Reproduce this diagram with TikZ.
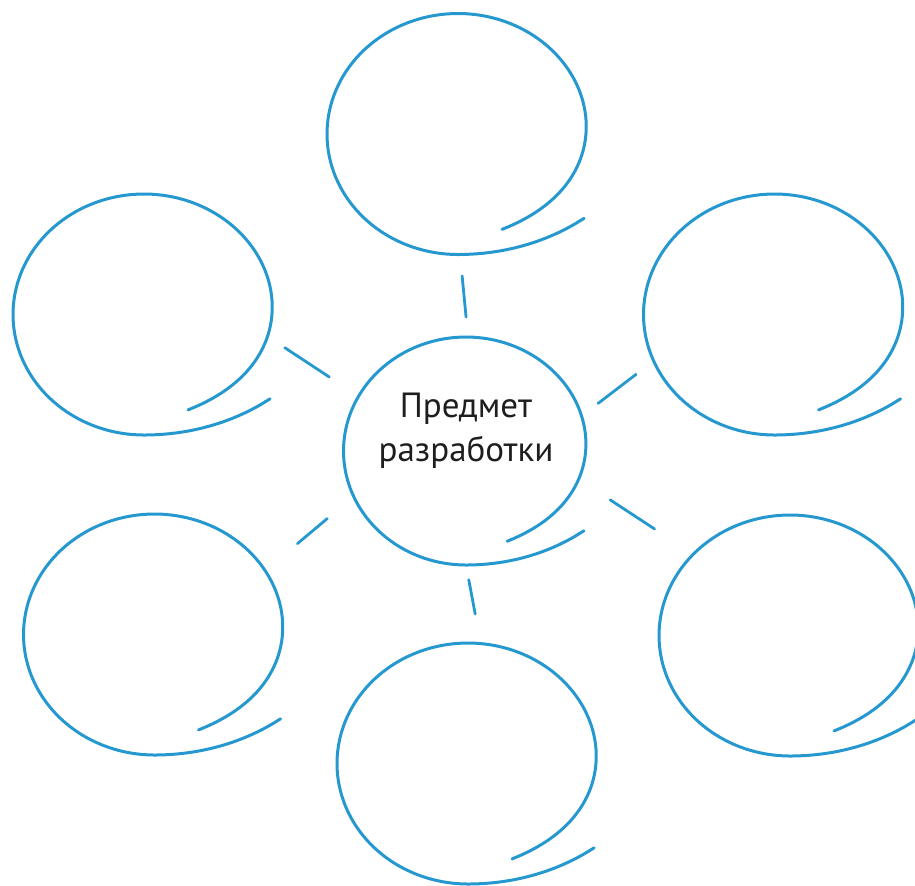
\documentclass[tikz,border=0pt]{standalone}
\usepackage{fontspec}
\setmainfont{PT Sans}
\usepackage{tikz}
\usetikzlibrary{shapes.geometric, positioning}
\definecolor{bubbleblue}{RGB}{38,152,208}
\definecolor{inkgray}{RGB}{30,30,30}
\tikzset{
  bubble/.style={ellipse,draw=none,inner sep=0pt,outer sep=0pt,minimum width=131pt,minimum height=121pt},
  hubnode/.style={bubble,minimum width=122.5pt,minimum height=114pt},
  hubtext/.style={align=center,text=inkgray,font=\fontsize{17.5}{22}\selectfont},
  doodle/.style={draw=bubbleblue,line width=1.5pt,line cap=round},
  link/.style={draw=bubbleblue,line width=1.4pt,line cap=round},
  declare function={spir(\t)=1-0.14*exp(-min(((\t+67)/50)^2,30))+0.19*(max(0,\t-270)/54)^2;}
}
% hand-drawn loop round a bubble: node, x radius, y radius
\newcommand{\scribble}[3]{%
  \draw[doodle,shift={(#1.center)}] plot[smooth,domain=-67:324,samples=80,variable=\t]
    ({#2*spir(\t)*cos(\t)},{-#3*spir(\t)*sin(\t)});}

\begin{document}
\begin{tikzpicture}[x=0.5pt,y=-0.5pt]
  \useasboundingbox (0,0) rectangle (915,885);
  \clip (0,0) rectangle (915,885);

  %% Central topic
  \node[hubnode] (hub) at (466,451) {};
  \node[hubtext] (title) at ([yshift=10pt]hub.center) {Предмет\\разработки};

  %% Empty bubbles round it
  \node[bubble] (top) at (458,134) {};
  \node[bubble] (lefttop) at (144,314.5) {};
  \node[bubble] (righttop) at (774.5,314.5) {};
  \node[bubble] (leftbot) at (154.5,634.5) {};
  \node[bubble] (rightbot) at (790,635.5) {};
  \node[bubble] (bottom) at (468,763.5) {};

  \scribble{hub}{122.5}{114}
  \foreach \n in {top,lefttop,righttop,leftbot,rightbot,bottom}{\scribble{\n}{131}{120.5}}

  %% Spokes
  \draw[link,shorten <=10pt,shorten >=10.5pt] (hub.89) -- (top.-89);
  \draw[link,shorten <=17.5pt,shorten >=7.5pt] (hub.153) -- (lefttop.-11);
  \draw[link,shorten <=9.9pt,shorten >=11pt] (hub.17.5) -- (righttop.201.7);
  \draw[link,shorten <=15.8pt,shorten >=23pt] (hub.-15) -- (rightbot.140);
  \draw[link,shorten <=17.2pt,shorten >=20.8pt] (hub.202) -- (leftbot.30.4);
  \draw[link,shorten <=7.5pt,shorten >=14.8pt] (hub.-90) -- (bottom.84.7);
\end{tikzpicture}
\end{document}
